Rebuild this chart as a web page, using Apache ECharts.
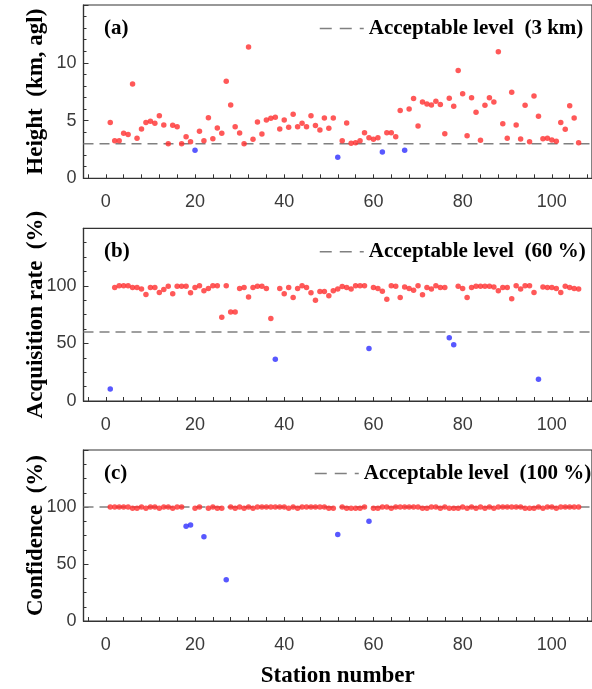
<!DOCTYPE html>
<html>
<head>
<meta charset="utf-8">
<script src="https://cdn.jsdelivr.net/npm/echarts@6/dist/echarts.min.js"></script>
<style>
html,body{margin:0;padding:0;background:#fff;}
#chart{width:592px;height:689px;}
</style>
</head>
<body>
<div id="chart"></div>
<script>
// ---------------- data ----------------
const stations = [1,2,3,4,5,6,7,8,9,10,11,12,13,14,15,16,17,18,19,20,21,22,23,24,25,26,27,28,29,30,
  31,32,33,34,35,36,37,38,39,40,41,42,43,44,45,46,47,48,49,50,51,52,53,54,55,56,57,58,59,60,
  61,62,63,64,65,66,67,68,69,70,71,72,73,74,75,76,77,78,79,80,81,82,83,84,85,86,87,88,89,90,
  91,92,93,94,95,96,97,98,99,100,101,102,103,104,105,106];

// (a) Height (km, agl)
const heightKm = [4.82,3.26,3.26,3.89,3.80,8.16,3.46,4.27,4.82,4.93,
  4.76,5.42,4.61,3.00,4.59,4.47,3.00,3.59,3.17,2.42,
  4.07,3.26,5.25,3.43,4.35,3.89,8.39,6.35,4.47,3.93,
  3.00,11.37,3.38,4.87,3.83,5.05,5.19,5.28,4.27,5.05,
  4.41,5.54,4.47,4.76,4.47,5.42,4.56,4.19,5.22,4.33,
  5.22,1.82,3.26,4.79,3.03,3.08,3.26,3.95,3.52,3.38,
  3.52,2.27,3.95,3.95,3.60,5.86,2.42,6.00,6.90,4.53,
  6.61,6.43,6.35,6.67,6.38,3.86,6.93,6.23,9.32,7.32,
  3.69,6.98,5.71,3.29,6.32,6.98,6.61,10.96,4.73,3.46,
  7.45,4.61,3.41,6.32,3.17,7.13,5.37,3.43,3.46,3.31,
  3.20,4.82,4.24,6.29,5.22,3.08];
const failA = [20,52,62,67];

// (b) Acquisition rate (%)
const acquisition = [10.4,98.6,100,100,100,98.6,98.6,97.2,92.6,98.6,
  98.6,94.3,96.9,99.7,93.2,99.7,99.7,99.7,94.0,98.6,
  100,95.7,97.7,100,100,72.8,100,77.3,77.3,97.7,
  98.6,90.4,98.6,99.7,99.7,97.7,71.6,36.2,97.7,93.2,
  98.6,89.8,97.7,100,98.6,94.0,87.5,95.0,95.0,91.5,
  95.7,97.2,99.5,98.5,97.2,100,100,100,45.5,98.6,
  97.7,95.4,88.4,100,99.7,89.8,99.1,97.7,96.3,100,
  92.3,98.6,97.2,100,98.6,98.6,54.9,48.9,99.7,97.7,
  89.8,98.6,99.7,99.7,99.7,99.7,99.1,95.7,98.6,98.6,
  88.9,100,97.2,100,100,94.3,18.9,99.1,98.6,98.6,
  97.7,94.3,99.7,98.6,97.7,97.2];
const failB = [1,38,59,77,78,97];

// (c) Confidence (%)
const confidence = [100,100,100,100,100,99,99,100,99,100,
  100,99,100,100,99,100,100,83.1,84.3,99,
  100,73.8,99,100,99,99,36.1,100,99,100,
  99,100,99,100,100,100,100,100,100,100,
  99,100,99,100,100,100,100,100,100,99,
  99,75.8,100,99,99,99,99,100,87.5,99,
  99,100,100,99,100,100,100,100,100,100,
  99,99,100,100,99,100,99,99,99,100,
  99,100,99,100,99,100,99,100,100,100,
  100,100,100,99,99,99,100,99,100,100,
  99,100,100,100,100,100];
const failC = [18,19,22,27,52,59];

const thresholds = [3, 60, 100];
const legendNames = ['Acceptable level  (3 km)', 'Acceptable level  (60 %)', 'Acceptable level  (100 %)'];
const panelLabels = ['(a)', '(b)', '(c)'];
const yNames = ['Height  (km, agl)', 'Acquisition rate  (%)', 'Confidence  (%)'];
const xTitle = 'Station number';

const xRange = [-5, 109];
const xTickValues = [-4,0,4,8,12,16,20,24,28,32,36,40,44,48,52,56,60,64,68,72,76,80,84,88,92,96,100,104,108];
const xLabelValues = [0,20,40,60,80,100];
const yMax = [15, 150, 150];
const yInterval = [5, 50, 50];
const yMinorSplit = [5, 4, 4];

// ---------------- chart ----------------
const RED = '#ff2e2e', BLUE = '#2e2eff', DASH = '#808080';
const serifBold = {fontFamily:'Liberation Serif', fontWeight:'bold', color:'#000'};
const gridTops = [5, 228.3, 450];
const gridHeights = [173.3, 172.7, 172.7];
const legendLeft = [319, 319, 314];

function split(vals, fails){
  const ok=[], bad=[];
  vals.forEach((v,i)=>{ const s=stations[i]; (fails.includes(s)?bad:ok).push([s,v]); });
  return {ok, bad};
}
const panels = [split(heightKm, failA), split(acquisition, failB), split(confidence, failC)];

const grids=[], xAxes=[], yAxes=[], series=[], legends=[], titles=[];
for(let i=0;i<3;i++){
  grids.push({left:83.5, top:gridTops[i], width:510, height:gridHeights[i],
    show:true, borderColor:'#333', borderWidth:1.2, backgroundColor:'transparent'});
  const xa = {
    type:'value', gridIndex:i, min:xRange[0], max:xRange[1],
    axisLine:{show:true, onZero:false, lineStyle:{color:'#333', width:1.2}},
    axisTick:{show:true, inside:true, length:4, customValues:xTickValues, lineStyle:{color:'#333'}},
    axisLabel:{customValues:xLabelValues, fontFamily:'Liberation Sans', fontSize:18, color:'#3a3a3a', margin:15},
    splitLine:{show:false}
  };
  if(i===2){
    xa.name = xTitle; xa.nameLocation='middle'; xa.nameGap=44; xa.nameMoveOverlap=false;
    xa.nameTextStyle = Object.assign({fontSize:23}, serifBold);
  }
  xAxes.push(xa);
  yAxes.push({
    type:'value', gridIndex:i, min:0, max:yMax[i], interval:yInterval[i],
    axisLine:{show:true, onZero:false, lineStyle:{color:'#333', width:1.2}},
    axisTick:{show:true, inside:true, length:5, lineStyle:{color:'#333'}},
    minorTick:{show:true, splitNumber:yMinorSplit[i], length:3, lineStyle:{color:'#333'}},
    axisLabel:{fontFamily:'Liberation Sans', fontSize:18, color:'#3a3a3a', margin:7, showMaxLabel:false},
    splitLine:{show:false}, minorSplitLine:{show:false},
    name:yNames[i], nameLocation:'middle', nameGap:36, nameMoveOverlap:false,
    nameTextStyle:Object.assign({fontSize:23}, serifBold)
  });
  series.push({
    name:legendNames[i], type:'line', xAxisIndex:i, yAxisIndex:i,
    data:[[xRange[0], thresholds[i]],[xRange[1], thresholds[i]]],
    symbol:'none', symbolSize:0, silent:true, z:1,
    itemStyle:{color:DASH},
    lineStyle:{color:DASH, width:1.5, type:[10,6]}
  });
  series.push({
    type:'scatter', xAxisIndex:i, yAxisIndex:i, data:panels[i].ok,
    symbolSize:5.5, itemStyle:{color:RED}, z:3
  });
  series.push({
    type:'scatter', xAxisIndex:i, yAxisIndex:i, data:panels[i].bad,
    symbolSize:5.5, itemStyle:{color:BLUE}, z:3
  });
  legends.push({
    data:[legendNames[i]], left:legendLeft[i], top:gridTops[i]+13, padding:0,
    itemWidth:44, itemHeight:14, selectedMode:false,
    itemStyle:{opacity:0},
    lineStyle:{color:DASH, width:1.5, type:[12,8]},
    textStyle:Object.assign({fontSize:21}, serifBold)
  });
  titles.push({
    text:panelLabels[i], left:104, top:gridTops[i]+13, padding:0,
    textStyle:Object.assign({fontSize:21}, serifBold)
  });
}

const chart = echarts.init(document.getElementById('chart'), null, {renderer:'canvas'});
chart.setOption({
  animation:false,
  backgroundColor:'#fff',
  title:titles,
  legend:legends,
  grid:grids,
  xAxis:xAxes,
  yAxis:yAxes,
  series:series
});
</script>
</body>
</html>
